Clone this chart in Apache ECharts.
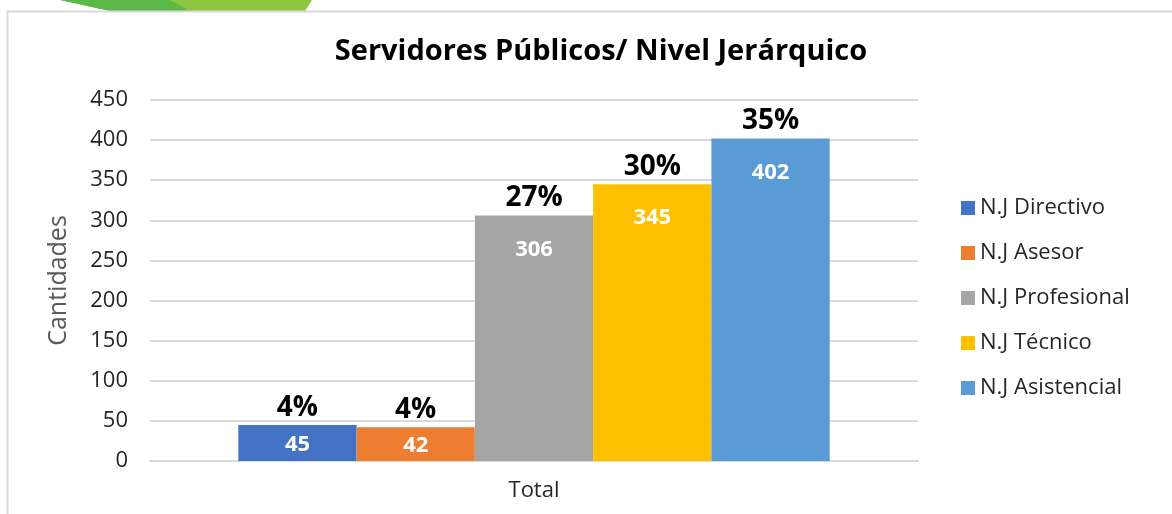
<!DOCTYPE html>
<html>
<head>
<meta charset="utf-8">
<script src="https://cdn.jsdelivr.net/npm/echarts@6/dist/echarts.min.js"></script>
<style>
  html, body { margin: 0; padding: 0; background: #fff; }
  #chart { width: 1172px; height: 514px; }
</style>
</head>
<body>
<div id="chart"></div>
<script>
var categories = ['Total'];
var seriesNames = ['N.J Directivo', 'N.J Asesor', 'N.J Profesional', 'N.J Técnico', 'N.J Asistencial'];
var seriesValues = [45, 42, 306, 345, 402];
var colors = ['#4472C4', '#ED7D31', '#A5A5A5', '#FFC000', '#5B9BD5'];
var yTicks = [0, 50, 100, 150, 200, 250, 300, 350, 400, 450];

var total = seriesValues.reduce(function (a, b) { return a + b; }, 0);
var font = 'Open Sans';

var chartDom = document.getElementById('chart');
var myChart = echarts.init(chartDom);

var series = [];
seriesNames.forEach(function (name, i) {
    var v = seriesValues[i];
    series.push({
        name: name,
        type: 'bar',
        xAxisIndex: 0,
        data: [{ value: v, label: { position: v < 100 ? 'inside' : 'insideTop', offset: v < 100 ? [0, 2] : [0, 0] } }],
        barGap: 0,
        barCategoryGap: '23%',
        itemStyle: { color: colors[i] },
        label: {
            show: true,
            distance: 23,
            color: '#fff',
            fontFamily: font,
            fontWeight: 'bold',
            fontSize: 22
        }
    });
});
// porcentajes sobre cada barra
seriesNames.forEach(function (name, i) {
    var v = seriesValues[i];
    series.push({
        name: 'pct' + i,
        type: 'bar',
        xAxisIndex: 1,
        data: [v],
        barGap: 0,
        barCategoryGap: '23%',
        itemStyle: { color: 'rgba(0,0,0,0)' },
        silent: true,
        label: {
            show: true,
            position: 'top',
            distance: 3,
            color: '#000',
            fontFamily: font,
            fontWeight: 'bold',
            fontSize: 28,
            formatter: Math.round(v / total * 100) + '%'
        }
    });
});

var option = {
    animation: false,
    title: {
        text: 'Servidores Públicos/ Nivel Jerárquico',
        left: 596,
        textAlign: 'center',
        top: 32,
        textStyle: { fontFamily: font, fontWeight: 'bold', fontSize: 29, color: '#000' }
    },
    graphic: [
        {
            type: 'polygon',
            shape: { points: [[60, 0], [312, 0], [305, 11], [110, 11]] },
            style: { fill: '#8DC63F' }
        },
        {
            type: 'polygon',
            shape: { points: [[60, 0], [170, 0], [190, 11], [110, 11]] },
            style: { fill: '#5DB84A' }
        },
        {
            type: 'rect',
            shape: { x: 7.5, y: 11.5, width: 1200, height: 600 },
            style: { fill: 'none', stroke: '#d9d9d9', lineWidth: 2 }
        }
    ],
    legend: {
        data: seriesNames,
        orient: 'vertical',
        left: 956,
        top: 191,
        itemWidth: 14,
        itemHeight: 14,
        itemGap: 21,
        icon: 'rect',
        textStyle: { fontFamily: font, fontSize: 22, color: '#262626', lineHeight: 24 }
    },
    grid: { left: 150, right: 254, top: 100, bottom: 53 },
    xAxis: [
        {
            type: 'category',
            data: categories,
            axisLine: { lineStyle: { color: '#d9d9d9', width: 2 } },
            axisTick: { show: false },
            axisLabel: { color: '#262626', fontFamily: font, fontSize: 22, margin: 19 }
        },
        {
            type: 'category',
            data: categories,
            show: false,
            position: 'bottom'
        }
    ],
    yAxis: {
        type: 'value',
        min: 0,
        max: 450,
        interval: 50,
        name: 'Cantidades',
        nameLocation: 'middle',
        nameGap: 79,
        nameTextStyle: { color: '#595959', fontFamily: font, fontSize: 25 },
        axisLine: { show: false },
        axisTick: { show: false },
        splitLine: { lineStyle: { color: '#d9d9d9', width: 2 } },
        axisLabel: {
            color: '#262626', fontFamily: font, fontSize: 22, margin: 22,
            formatter: function (v) { return yTicks.indexOf(v) >= 0 ? String(v) : ''; }
        }
    },
    series: series
};

option && myChart.setOption(option);
</script>
</body>
</html>
